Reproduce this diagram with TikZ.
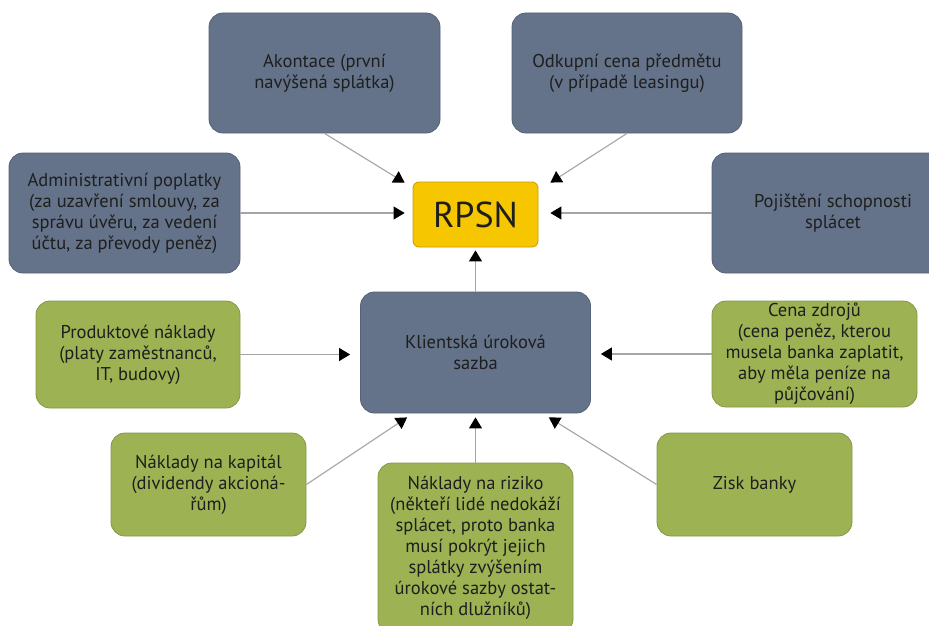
\documentclass[tikz,border=0pt]{standalone}
\usepackage{fontspec}
\setmainfont{PT Sans}
\usetikzlibrary{arrows.meta,calc}
\definecolor{bluebox}{RGB}{100,115,137}
\definecolor{greenbox}{RGB}{157,178,82}
\definecolor{yellowbox}{RGB}{246,198,0}
\definecolor{txt}{RGB}{30,30,30}
\definecolor{conn}{RGB}{165,165,165}
\tikzset{
  box/.style={rectangle, rounded corners=14pt, align=center, text=txt, inner sep=2pt,
    font=\fontsize{18.5}{21}\selectfont, line width=0.8pt},
  bluenode/.style={box, fill=bluebox, draw=bluebox!85!black},
  greennode/.style={box, fill=greenbox, draw=greenbox!85!black},
  conarrow/.style={draw=conn, line width=1.1pt, -{Triangle[length=11pt,width=13pt,color=black]}},
}
\begin{document}
\begin{tikzpicture}[x=1pt,y=-1pt]
\useasboundingbox (0,0) rectangle (929,626);
\fill[white] (0,0) rectangle (929,626);
\clip (0,0) rectangle (929,626);
\node[bluenode, minimum width=231pt, minimum height=120pt] (akontace) at (324.5,73) {Akontace (první\\navýšená splátka)};
\node[bluenode, minimum width=230pt, minimum height=120pt] (odkup) at (627,73) {Odkupní cena předmětu\\(v případě leasingu)};
\node[bluenode, minimum width=231pt, minimum height=120pt] (admin) at (124.5,213) {Administrativní poplatky\\(za uzavření smlouvy, za\\správu úvěru, za vedení\\účtu, za převody peněz)};
\node[box, fill=yellowbox, draw=yellowbox!80!black, rounded corners=6pt, minimum width=125pt, minimum height=65pt, font=\fontsize{36}{40}\selectfont] (rpsn) at (475.5,214.5) {RPSN};
\node[bluenode, minimum width=242pt, minimum height=120pt] (pojist) at (833,213) {Pojištění schopnosti\\splácet};
\node[bluenode, minimum width=230pt, minimum height=121pt] (klient) at (475.5,352.5) {Klientská úroková\\sazba};
\node[greennode, minimum width=204pt, minimum height=107pt] (produkt) at (138,354.5) {Produktové náklady\\(platy zaměstnanců,\\IT, budovy)};
\node[greennode, minimum width=205pt, minimum height=106pt] (cena) at (814.5,354) {Cena zdrojů\\(cena peněz, kterou\\musela banka zaplatit,\\aby měla peníze na\\půjčování)};
\node[greennode, minimum width=195pt, minimum height=103pt] (kapital) at (208.5,484.5) {Náklady na kapitál\\(dividendy akcioná-\\řům)};
\node[greennode, minimum width=195pt, minimum height=170pt] (riziko) at (475.5,548) {Náklady na riziko\\(někteří lidé nedokáží\\splácet, proto banka\\musí pokrýt jejich\\splátky zvýšením\\úrokové sazby ostat-\\ních dlužníků)};
\node[greennode, minimum width=195pt, minimum height=103pt] (zisk) at (754.5,484.5) {Zisk banky};
% target coordinates
\coordinate (t1) at ($(rpsn.north west)+(-8,1)$);
\coordinate (t2) at ($(rpsn.north east)+(12,1)$);
\coordinate (t8) at ($(klient.south west)+(47,4)$);
\coordinate (t10) at ($(klient.south east)+(-42,4)$);
% connectors
\draw[conarrow] (akontace.south) -- (t1);
\draw[conarrow] (odkup.south) -- (t2);
\draw[conarrow, shorten >=8pt] (admin.east) -- (admin.east -| rpsn.west);
\draw[conarrow, shorten >=12pt] (pojist.west) -- (pojist.west -| rpsn.east);
\draw[conarrow, shorten >=3pt] (klient.north) -- (rpsn.south);
\draw[conarrow, shorten >=10pt] (produkt.east) -- (produkt.east -| klient.west);
\draw[conarrow, shorten >=10pt] (cena.west) -- (cena.west -| klient.east);
\draw[conarrow] (kapital.east) -- (t8);
\draw[conarrow, shorten >=4pt] (riziko.north) -- (klient.south);
\draw[conarrow] (zisk.west) -- (t10);
\end{tikzpicture}
\end{document}
